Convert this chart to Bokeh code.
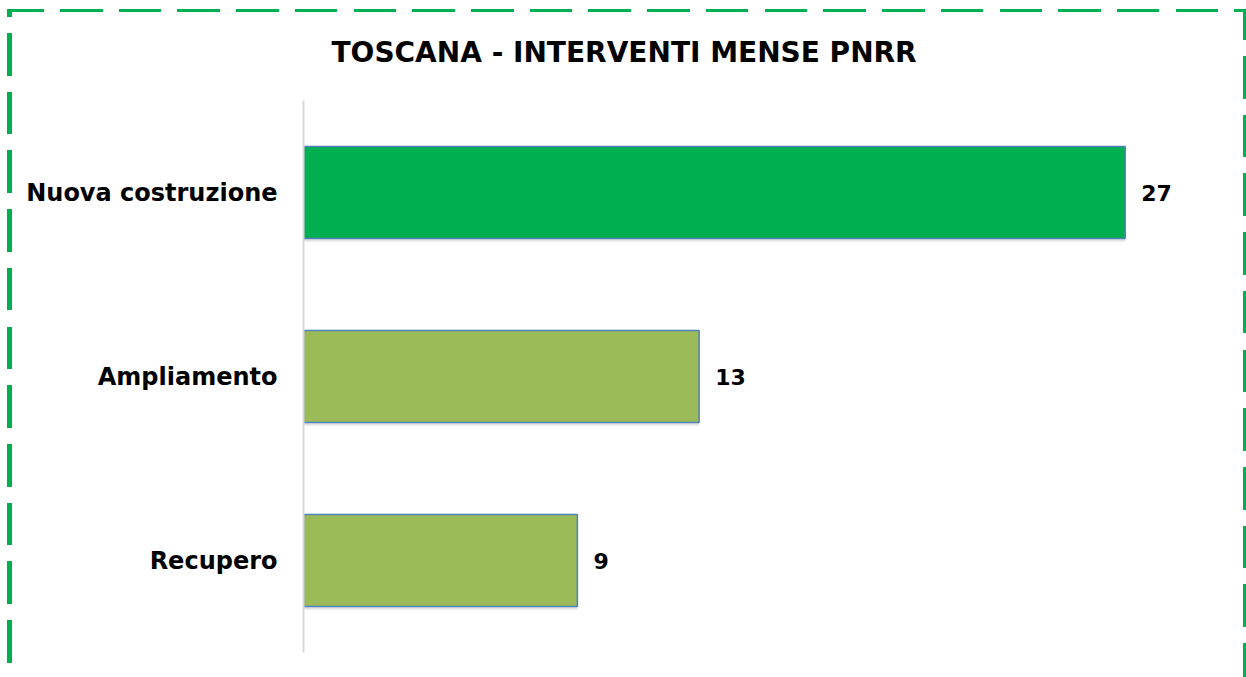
from bokeh.plotting import figure
from bokeh.models import ColumnDataSource, FactorRange, Range1d
from bokeh.transform import dodge
from bokeh.core.properties import value
from bokeh.embed import file_html
from bokeh.resources import INLINE

categories = ["Nuova costruzione", "Ampliamento", "Recupero"]
counts = [27, 13, 9]
colors = ["#00B050", "#9BBB59", "#9BBB59"]
title_text = "TOSCANA - INTERVENTI MENSE PNRR"

W, H = 1246, 677
FONT = "DejaVu Sans"
GREEN = "#00B050"

src = ColumnDataSource(dict(cat=categories, val=counts, color=colors,
                            label=[str(v) for v in counts]))

y_range = FactorRange(factors=list(reversed(categories)), range_padding=0)
p = figure(width=W, height=H, output_backend="svg", toolbar_location=None,
           y_range=y_range, x_range=Range1d(0, 30),
           min_border_left=303, min_border_right=30,
           min_border_top=100, min_border_bottom=25)

# soft shadow under the bars
p.hbar(y=dodge("cat", -0.018, range=y_range), right="val", left=0.0,
       height=0.5, source=src, fill_color="#000000", fill_alpha=0.10,
       line_color=None)
p.hbar(y="cat", right="val", left=0, height=0.5, source=src,
       fill_color="color", line_color="#4F81BD", line_width=1.5)

p.text(x="val", y="cat", text="label", source=src, x_offset=16,
       text_align="left", text_baseline="middle",
       text_font=value(FONT), text_font_style="bold", text_font_size="22px",
       text_color="#000000")

p.title.text = title_text
p.title.align = "left"
p.title.offset = 28
p.title.text_font = FONT
p.title.text_font_style = "bold"
p.title.text_font_size = "28px"
p.title.text_color = "#000000"
p.title.standoff = 63

p.xaxis.visible = False
p.xgrid.visible = False
p.ygrid.visible = False
p.outline_line_color = None
p.border_fill_color = None
p.background_fill_color = None

p.yaxis.axis_line_color = "#D9D9D9"
p.yaxis.axis_line_width = 2
p.yaxis.major_tick_line_color = None
p.yaxis.minor_tick_line_color = None
p.yaxis.major_label_standoff = 20
p.yaxis.major_label_text_font = FONT
p.yaxis.major_label_text_font_style = "bold"
p.yaxis.major_label_text_font_size = "24px"
p.yaxis.major_label_text_color = "#000000"

# dashed green frame around the whole chart (page decoration)
top_line = f"repeating-linear-gradient(to right, {GREEN} 0px 36.8px, transparent 36.8px 53px, {GREEN} 53px 58.72px)"
left_line = f"repeating-linear-gradient(to bottom, {GREEN} 0px 7.8px, transparent 7.8px 24px, {GREEN} 24px 58.72px)"
right_line = f"repeating-linear-gradient(to bottom, {GREEN} 0px 30.8px, transparent 30.8px 47px, {GREEN} 47px 58.72px)"
p.styles = {
    "background-color": "#FFFFFF",
    "background-image": f"{top_line}, {left_line}, {right_line}",
    "background-size": f"{W - 7}px 3px, 5px {H - 9}px, 3px {H - 9}px",
    "background-position": f"7px 9px, 7px 9px, {W - 3}px 9px",
    "background-repeat": "no-repeat",
}

open("out.html", "w").write(file_html(p, INLINE))
